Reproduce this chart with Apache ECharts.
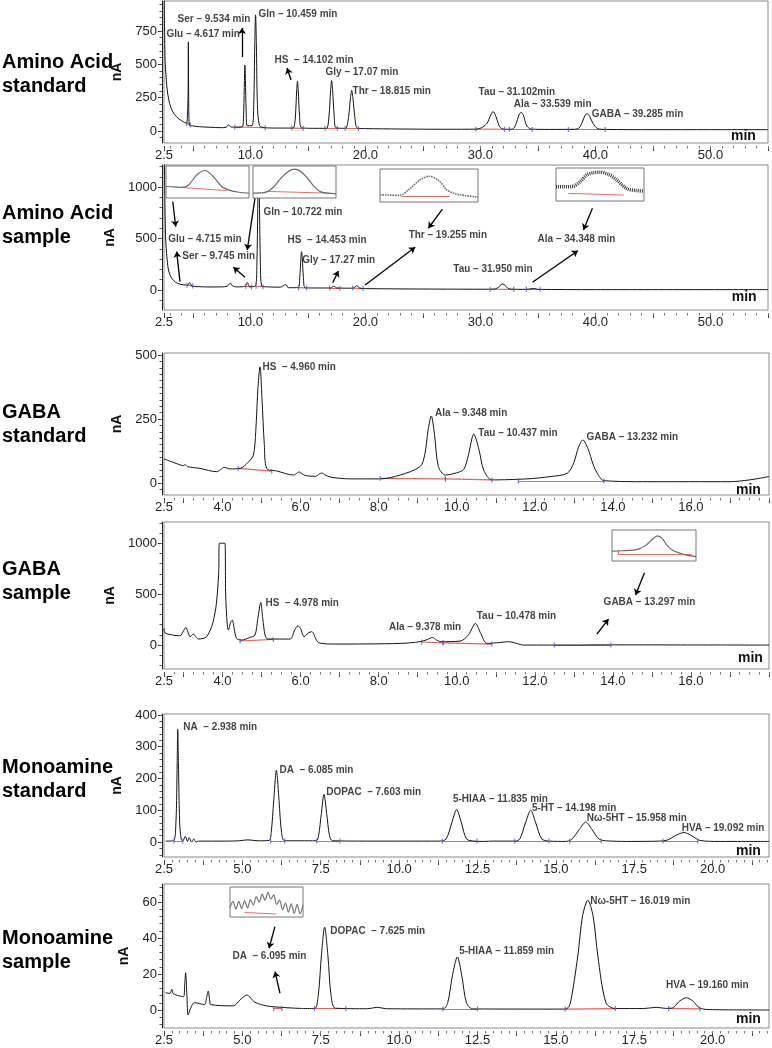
<!DOCTYPE html>
<html><head><meta charset="utf-8">
<script src="https://cdn.jsdelivr.net/npm/echarts@6/dist/echarts.min.js"></script>
<style>html,body{margin:0;padding:0;background:#fff}#c{width:772px;height:1048px}</style>
</head><body><div id="c"></div>
<script>
// ---------------- DATA ----------------
const panelTitles = [["Amino Acid","standard"],["Amino Acid","sample"],["GABA","standard"],["GABA","sample"],["Monoamine","standard"],["Monoamine","sample"]];

const aaXTickLabels = [2.5,10,20,30,40,50];
const gabaXTickLabels = [2.5,4,6,8,10,12,14,16];
const monoXTickLabels = [2.5,5,7.5,10,12.5,15,17.5,20];
const aaStdYTicks = [0,250,500,750];
const aaSmpYTicks = [0,500,1000];
const gabaStdYTicks = [0,250,500];
const gabaSmpYTicks = [0,500,1000];
const monoStdYTicks = [0,100,200,300,400];
const monoSmpYTicks = [0,20,40,60];

// traces [min, nA]
const aaStdTrace = [[2.52,990],[2.56,700],[2.6,520],[2.75,330],[2.9,240],[3.1,175],[3.4,125],[3.8,90],[4.2,68],[4.35,60],[4.42,66],[4.5,58],
 [4.55,60],[4.59,260],[4.617,668],[4.645,260],[4.7,45],
 [5.0,38],[5.6,32],[6.5,28],[7.5,25],[7.9,28],[8.1,45],[8.35,30],[8.8,28],[9.2,30],
 [9.35,35],[9.43,150],[9.49,380],[9.534,495],[9.58,380],[9.64,150],[9.72,40],
 [10.15,40],[10.3,200],[10.39,650],[10.459,871],[10.53,650],[10.62,200],[10.8,40],
 [11.2,25],[12.5,22],[13.6,22],
 [13.8,28],[13.93,120],[14.03,300],[14.102,374],[14.17,300],[14.28,120],[14.45,25],
 [15.5,20],[16.5,20],
 [16.7,24],[16.85,120],[16.98,300],[17.07,379],[17.16,300],[17.29,120],[17.45,24],
 [18.2,20],
 [18.35,22],[18.55,110],[18.7,240],[18.815,305],[18.93,240],[19.08,110],[19.3,22],
 [20,18],[23,15],[27,13],[29.7,14],
 [30.2,30],[30.6,60],[30.85,110],[31.102,146],[31.35,110],[31.6,45],[31.9,16],
 [32.4,13],
 [32.8,14],[33.1,55],[33.35,120],[33.539,141],[33.75,115],[34.0,45],[34.4,14],
 [36,12],[38.2,13],
 [38.6,25],[38.9,75],[39.1,118],[39.285,129],[39.5,110],[39.8,55],[40.2,18],[40.8,12],
 [45,10],[50,10],[55,10]];

const aaSmpTrace = [[2.53,1300],[2.6,700],[2.65,486],[2.75,320],[2.85,220],[3.0,150],[3.2,110],[3.5,75],[3.9,55],[4.4,48],
 [4.55,45],[4.65,62],[4.715,71],[4.8,60],[4.95,38],
 [5.5,32],[6.5,29],[7.5,30],[8.0,36],[8.2,60],[8.3,66],[8.45,40],[8.8,30],[9.4,32],
 [9.6,40],[9.7,65],[9.745,72],[9.8,62],[9.95,32],
 [10.45,38],[10.58,300],[10.67,950],[10.722,1160],[10.78,950],[10.87,300],[11.0,38],
 [11.5,30],[12.6,27],[12.95,48],[13.1,52],[13.3,22],
 [14.15,22],[14.3,120],[14.4,310],[14.453,372],[14.52,310],[14.62,120],[14.78,20],
 [15.8,19],[16.9,19],
 [17.05,22],[17.27,36],[17.5,20],
 [18.8,17],
 [19.0,20],[19.255,42],[19.5,18],
 [20,13],[25,9],[30.8,7],
 [31.3,10],[31.6,30],[31.8,52],[31.95,58],[32.15,45],[32.4,15],[32.7,7],
 [34.0,6],[34.4,12],[34.7,14],[35.0,6],[40,3],[55,3]];

const gabaStdTrace = [[2.5,94],[2.75,80],[3.0,68],[3.04,72],[3.1,64],[3.42,57],[3.85,44],[3.95,52],[4.04,61],[4.19,55],[4.45,57],[4.65,80],[4.79,109],
 [4.85,200],[4.91,380],[4.96,454],[5.01,330],[5.07,150],[5.13,57],
 [5.39,47],[5.82,31],[5.92,40],[5.96,43],[6.04,36],[6.12,29],[6.38,26],[6.48,35],[6.54,39],[6.62,32],[6.76,23],[7.27,16],[8.05,16],[8.55,31],[9.06,64],
 [9.18,110],[9.27,210],[9.348,262],[9.43,190],[9.53,64],[9.71,31],
 [10.0,40],[10.18,53],
 [10.3,110],[10.437,191],[10.57,130],[10.69,51],[10.9,12],
 [11.8,16],[12.4,25],[12.83,38],
 [13.0,80],[13.12,140],[13.232,168],[13.36,135],[13.5,70],[13.6,38],[13.77,9],
 [14.88,5],[17.0,5],[17.5,12],[18,25]];

const gabaSmpTrace = [[2.5,163],[2.52,121],[2.7,100],[2.91,91],[3.0,140],[3.06,173],[3.12,120],[3.17,82],[3.25,108],[3.32,80],[3.38,59],[3.5,65],[3.59,82],
 [3.7,160],[3.76,229],[3.84,400],[3.9,700],[3.92,1000],[4.06,1000],[4.08,500],[4.12,200],[4.15,147],
 [4.2,215],[4.25,245],[4.3,160],[4.36,65],[4.49,49],[4.7,75],[4.83,98],
 [4.9,250],[4.978,418],[5.03,260],[5.09,98],[5.16,59],[5.73,59],
 [5.85,150],[5.93,189],[6.0,160],[6.09,82],[6.2,120],[6.29,131],[6.38,70],[6.46,23],[6.86,10],[8.55,16],[9.06,33],
 [9.25,55],[9.378,75],[9.48,50],[9.6,33],[10.09,39],
 [10.3,100],[10.478,212],[10.62,110],[10.77,16],[11.1,25],[11.33,33],[11.5,20],[11.71,0],[13.1,0],[13.55,2],[18,0]];

const monoStdTrace = [[2.55,3],[2.8,4],[2.88,60],[2.92,250],[2.938,355],[2.96,250],[3.0,60],[3.05,8],[3.1,3],[3.18,18],[3.25,2],[3.3,14],[3.38,0],[3.45,10],[3.52,0],[3.6,3],
 [4.5,3],[4.9,4],[5.18,7],[5.5,4],[5.85,5],
 [5.92,30],[6.0,130],[6.085,226],[6.17,130],[6.25,30],[6.35,4],
 [7.35,4],[7.43,20],[7.52,90],[7.603,150],[7.69,90],[7.78,20],[7.88,4],
 [9,3],[11.3,3],
 [11.5,10],[11.68,60],[11.835,102],[11.99,60],[12.15,10],[12.4,3],[12.7,2],[13.0,3],[13.7,3],
 [13.85,10],[14.03,60],[14.198,100],[14.36,60],[14.55,10],[14.8,3],[15.3,2],
 [15.5,8],[15.75,40],[15.958,63],[16.15,40],[16.4,8],[16.8,3],[17.4,2],[18.3,3],
 [18.55,6],[18.85,22],[19.092,30],[19.3,22],[19.6,5],[20.2,2],[21.8,2]];

const monoSmpTrace = [[2.55,9.6],[2.69,9.2],[2.75,11.4],[2.8,9],[3.12,7.4],[3.16,14],[3.19,20.7],[3.23,8],[3.27,-2.8],[3.35,1],[3.47,4.1],[3.79,3.0],[3.86,7],[3.91,10.5],[3.96,5],[3.99,3.0],
 [4.71,2.3],[4.92,5.5],[5.14,8.3],[5.4,4.3],[5.77,2.3],[6.3,1.4],[6.83,0.9],[7.3,0.8],
 [7.42,8],[7.52,30],[7.625,46],[7.73,30],[7.83,8],[7.97,1],
 [9.0,0.7],[9.3,1.5],[9.6,0.7],[11.4,0.6],
 [11.55,4],[11.7,19],[11.859,29.5],[12.0,19],[12.15,4],[12.35,0.6],[15.3,0.5],
 [15.45,3],[15.7,30],[15.85,52],[16.019,61],[16.19,52],[16.34,30],[16.6,4],[16.9,0.8],[17.8,0.8],[18.2,1.5],[18.5,0.9],
 [18.7,1],[18.95,5],[19.16,6.8],[19.37,5],[19.6,1],[20.0,0.2],[21.8,0]];

// peak annotations [min, nA, text]
const aaStdLabels = [[3.63,840,'Ser – 9.534 min'],[2.67,728,'Glu – 4.617 min'],[10.67,878,'Gln – 10.459 min'],[12.07,533,'HS  – 14.102 min'],[16.5,443,'Gly – 17.07 min'],[18.85,300,'Thr – 18.815 min'],[29.8,293,'Tau – 31.102min'],[32.85,203,'Ala – 33.539 min'],[39.63,128,'GABA – 39.285 min']];
const aaSmpLabels = [[2.82,493,'Glu – 4.715 min'],[4.04,324,'Ser – 9.745 min'],[11.11,752,'Gln – 10.722 min'],[13.2,487,'HS  – 14.453 min'],[14.47,292,'Gly – 17.27 min'],[23.72,535,'Thr – 19.255 min'],[34.93,496,'Ala – 34.348 min'],[27.6,201,'Tau – 31.950 min']];
const gabaStdLabels = [[5.01,452,'HS  – 4.960 min'],[9.43,272,'Ala – 9.348 min'],[10.54,194,'Tau – 10.437 min'],[13.31,177,'GABA – 13.232 min']];
const gabaSmpLabels = [[5.09,409,'HS  – 4.978 min'],[8.25,170,'Ala – 9.378 min'],[10.5,284,'Tau – 10.478 min'],[13.75,419,'GABA – 13.297 min']];
const monoStdLabels = [[3.1,360,'NA  – 2.938 min'],[6.17,227,'DA  – 6.085 min'],[7.66,158,'DOPAC  – 7.603 min'],[11.7,134,'5-HIAA – 11.835 min'],[14.22,106,'5-HT – 14.198 min'],[15.97,76,'Nω-5HT – 15.958 min'],[19.0,45,'HVA – 19.092 min']];
const monoSmpLabels = [[4.67,29.6,'DA  – 6.095 min'],[7.79,43.5,'DOPAC  – 7.625 min'],[11.9,32.4,'5-HIAA – 11.859 min'],[16.08,60.2,'Nω-5HT – 16.019 min'],[18.5,13.9,'HVA – 19.160 min']];

// arrows [[from],[to]]
const aaStdArrows = [[[9.28,555],[9.28,773]],[[13.54,383],[13.2,473]]];
const aaSmpArrows = [[[3.26,859],[3.52,616]],[[3.89,81],[3.6,373]],[[10.41,892],[9.74,389]],[[9.54,124],[8.53,221]],[[17.17,71],[17.66,185]],[[19.98,49],[24.33,415]],[[26.7,785],[25.48,600]],[[39.74,795],[38.96,584]],[[34.53,75],[38.47,382]]];
const gabaStdArrows = [];
const gabaSmpArrows = [[[14.81,709],[14.58,491]],[[13.59,108],[13.89,255]]];
const monoStdArrows = [];
const monoSmpArrows = [[[6.04,46.3],[5.85,34.3]],[[6.2,9.3],[6.04,21.3]]];

// integration baselines
const aaStdBaselines = [[[4.45,55],[4.8,45]],[[8.65,30],[11.3,25]],[[13.6,22],[14.6,20]],[[16.5,20],[17.57,20]],[[18.24,20],[19.4,18]],[[29.6,14],[32.1,13]],[[32.53,13],[34.5,12]],[[37.65,12],[40.85,11]]];
const aaSmpBaselines = [[[4.5,46],[5.0,38]],[[9.6,35],[10.1,30]],[[10.5,36],[11.1,32]],[[14.2,22],[14.9,19]],[[16.9,19],[17.8,17]],[[18.9,18],[19.8,13]],[[30.85,7],[32.9,6]],[[34.0,6],[35.2,6]]];
const gabaStdBaselines = [[[4.4,57],[5.26,46]],[[8.04,18],[9.71,16]],[[9.71,16],[10.9,12]],[[11.58,8],[13.77,8]]];
const gabaSmpBaselines = [[[4.45,40],[5.3,55]],[[9.1,30],[9.65,22]],[[9.65,22],[10.9,10]],[[12.5,0],[13.95,0]]];
const monoStdBaselines = [[[2.82,3],[3.1,3]],[[5.9,3],[6.35,3]],[[7.37,3],[8.11,3]],[[11.38,3],[12.49,3]],[[13.69,3],[14.78,3]],[[15.44,3],[16.45,3]],[[18.42,3],[19.53,3]]];
const monoSmpBaselines = [[[6.0,0.8],[6.26,0.8]],[[7.3,0.8],[8.3,0.7]],[[11.4,0.6],[12.5,0.6]],[[15.3,0.5],[16.9,0.8]],[[18.6,0.9],[19.6,0.6]]];

// zoom insets (relative 0-100 units)
const insetGluTrace = [[0,36],[10,35],[19,33],[27,40],[37,72],[47,86],[57,67],[67,36],[77,24],[88,18],[100,15]];
const insetGluRed = [[[19,33],[73,23]]];
const insetGlnTrace = [[0,15],[8,16],[16,18],[25,35],[32,57],[41,80],[50,90],[59,80],[67,57],[74,35],[81,20],[90,15],[100,13]];
const insetGlnRed = [[[14,21],[91,15]]];
const insetThrTrace = [[0,22],[10,21],[20,20],[31,42],[40,65],[50,78],[60,65],[68,37],[75,27],[81,22],[100,15]];
const insetThrRed = [[[22,17],[71,17]]];
const insetAlaTrace = [[0,43],[10,43],[20,45],[28,60],[35,79],[43,86],[51,87],[60,80],[69,64],[80,38],[90,32],[100,30]];
const insetAlaRed = [[[14,23],[77,18]]];
const insetGabaTrace = [[0,32],[12,33],[25,35],[33,40],[41,52],[48,70],[54,81],[60,72],[65,52],[72,35],[81,25],[90,18],[100,14]];
const insetGabaRed = [[[7,35],[7,23]],[[7,23],[95,23]]];
const insetDaTrace = [[0,30],[4,52],[8,26],[12,52],[16,28],[20,54],[24,30],[28,58],[32,40],[36,68],[40,50],[44,76],[48,56],[52,82],[56,60],[60,74],[64,42],[68,56],[72,24],[76,46],[80,16],[84,44],[88,12],[92,42],[96,10],[100,40]];
const insetDaRed = [[[20,15],[63,10]]];

// ---------------- LAYOUT / STYLE ----------------
function steps(a,b,s){const r=[];for(let k=0;;k++){const v=Math.round((a+k*s)*1000)/1000;if(v>b+1e-9)break;r.push(v);}return r;}
const FONT = '"Liberation Sans", Arial, Helvetica, sans-serif';
const panels = [
 {trace:aaStdTrace, labels:aaStdLabels, arrows:aaStdArrows, bases:aaStdBaselines, xLabels:aaXTickLabels, yLabels:aaStdYTicks},
 {trace:aaSmpTrace, labels:aaSmpLabels, arrows:aaSmpArrows, bases:aaSmpBaselines, xLabels:aaXTickLabels, yLabels:aaSmpYTicks},
 {trace:gabaStdTrace, labels:gabaStdLabels, arrows:gabaStdArrows, bases:gabaStdBaselines, xLabels:gabaXTickLabels, yLabels:gabaStdYTicks},
 {trace:gabaSmpTrace, labels:gabaSmpLabels, arrows:gabaSmpArrows, bases:gabaSmpBaselines, xLabels:gabaXTickLabels, yLabels:gabaSmpYTicks},
 {trace:monoStdTrace, labels:monoStdLabels, arrows:monoStdArrows, bases:monoStdBaselines, xLabels:monoXTickLabels, yLabels:monoStdYTicks},
 {trace:monoSmpTrace, labels:monoSmpLabels, arrows:monoSmpArrows, bases:monoSmpBaselines, xLabels:monoXTickLabels, yLabels:monoSmpYTicks}
];
const aaMajor=[2.5].concat(steps(5,55,5)), aaMinor=steps(3,55,1);
const gMajor=[2.5].concat(steps(3,18,1)), gMinor=steps(2.75,18,0.25);
const mMajor=steps(2.5,21.25,1.25), mMinor=steps(2.75,21.75,0.25);
const layout = [
 {grid:{left:164,top:1,width:604,height:142}, x:[2.5,55], y:[-90,975], xMajor:aaMajor, xMinor:aaMinor, yMinor:steps(-50,950,50), title:[62,86], minPos:[731,136]},
 {grid:{left:164,top:165,width:604,height:145}, x:[2.5,55], y:[-195,1215], xMajor:aaMajor, xMinor:aaMinor, yMinor:steps(-100,1200,100), title:[213,237], minPos:[731.7,296.7]},
 {grid:{left:164,top:353,width:605,height:142}, x:[2.5,18], y:[-47,508], xMajor:gMajor, xMinor:gMinor, yMinor:steps(-25,500,25), title:[412,436], minPos:[736,490]},
 {grid:{left:164,top:522,width:605,height:147}, x:[2.5,18], y:[-235,1208], xMajor:gMajor, xMinor:gMinor, yMinor:steps(-200,1200,100), title:[569,593], minPos:[738,658.3]},
 {grid:{left:164,top:714,width:605,height:143}, x:[2.5,21.8], y:[-47,403], xMajor:mMajor, xMinor:mMinor, yMinor:steps(-40,400,20), title:[767,791], minPos:[736,850.7]},
 {grid:{left:164,top:884,width:605,height:144}, x:[2.5,21.8], y:[-10,70], xMajor:mMajor, xMinor:mMinor, yMinor:steps(-8,68,4), title:[938,962], minPos:[736,1019]}
];
const insets = [
 {panel:1, trace:insetGluTrace, red:insetGluRed, box:{left:166,top:166,width:83,height:32}, color:'#6a6a6a', w:1.2, type:'solid'},
 {panel:1, trace:insetGlnTrace, red:insetGlnRed, box:{left:253,top:166,width:83,height:32}, color:'#6a6a6a', w:1.2, type:'solid'},
 {panel:1, trace:insetThrTrace, red:insetThrRed, box:{left:380,top:169,width:98,height:33}, color:'#6a6a6a', w:1.6, type:[1.5,1]},
 {panel:1, trace:insetAlaTrace, red:insetAlaRed, box:{left:556,top:168,width:88,height:33}, color:'#3a3a3a', w:3.5, type:[1,1]},
 {panel:3, trace:insetGabaTrace, red:insetGabaRed, box:{left:612,top:530,width:84,height:31}, color:'#6a6a6a', w:1.2, type:'solid'},
 {panel:5, trace:insetDaTrace, red:insetDaRed, box:{left:230,top:887,width:73,height:30}, color:'#777', w:1.2, type:'solid'}
];

const grids=[], xAxes=[], yAxes=[], series=[], graphic=[];
layout.forEach((L,i)=>{
  const P = panels[i];
  grids.push(Object.assign({show:true, borderColor:'#8a8a8a', borderWidth:1, backgroundColor:'rgba(0,0,0,0)', z:0}, L.grid));
  xAxes.push({type:'value', gridIndex:i, min:L.x[0], max:L.x[1], position:'bottom', offset:3,
    axisLine:{show:false, onZero:false}, axisTick:{show:true, customValues:L.xMajor, length:5, lineStyle:{color:'#444'}},
    axisLabel:{customValues:P.xLabels, formatter:v=>Number(v).toFixed(1), fontSize:13, color:'#222', margin:3, fontFamily:FONT}, splitLine:{show:false}});
  xAxes.push({type:'value', gridIndex:i, min:L.x[0], max:L.x[1], position:'bottom', offset:3,
    axisLine:{show:false, onZero:false}, axisTick:{show:true, customValues:L.xMinor, length:2.5, lineStyle:{color:'#777'}},
    axisLabel:{show:false}, splitLine:{show:false}});
  yAxes.push({type:'value', gridIndex:i, min:L.y[0], max:L.y[1], position:'left', offset:2,
    axisLine:{show:true, onZero:false, lineStyle:{color:'#222'}}, axisTick:{show:true, customValues:P.yLabels, length:4, lineStyle:{color:'#222'}},
    axisLabel:{customValues:P.yLabels, formatter:v=>String(Math.round(v)), fontSize:13, color:'#222', margin:5, fontFamily:FONT}, splitLine:{show:false},
    name:'nA', nameLocation:'middle', nameRotate:90, nameGap:27, nameTextStyle:{fontWeight:'bold', fontSize:14, color:'#111', fontFamily:FONT}});
  yAxes.push({type:'value', gridIndex:i, min:L.y[0], max:L.y[1], position:'left', offset:2,
    axisLine:{show:false, onZero:false}, axisTick:{show:true, customValues:L.yMinor, length:2.5, lineStyle:{color:'#555'}},
    axisLabel:{show:false}, splitLine:{show:false}});
  const xi=2*i, yi=2*i;
  series.push({type:'lines', coordinateSystem:'cartesian2d', xAxisIndex:xi, yAxisIndex:yi, z:2,
    data:P.bases.map(s=>({coords:s})), lineStyle:{color:'#e5463f', width:1.2, opacity:0.85}, silent:true});
  series.push({type:'line', xAxisIndex:xi, yAxisIndex:yi, data:P.trace, showSymbol:false, symbol:'none', smooth:0.3, z:3,
    lineStyle:{color:'#151515', width:1}, silent:true});
  const ends=[]; P.bases.forEach(s=>{ends.push(s[0]); ends.push(s[1]);});
  series.push({type:'scatter', xAxisIndex:xi, yAxisIndex:yi, data:ends, symbol:'rect', symbolSize:[1.2,5], z:4,
    itemStyle:{color:'#5a5ad8'}, silent:true});
  if (P.arrows.length) series.push({type:'lines', coordinateSystem:'cartesian2d', xAxisIndex:xi, yAxisIndex:yi, z:6,
    data:P.arrows.map(s=>({coords:s})), symbol:['none','arrow'], symbolSize:6, lineStyle:{color:'#000', width:1.3, opacity:1}, silent:true});
  series.push({type:'scatter', xAxisIndex:xi, yAxisIndex:yi, z:7, symbolSize:1, itemStyle:{color:'rgba(0,0,0,0)'},
    data:P.labels.map(l=>({value:[l[0],l[1]], name:l[2]})),
    label:{show:true, position:'right', distance:0, formatter:'{b}', fontWeight:'bold', fontSize:10, color:'#111', fontFamily:FONT}, silent:true});
  graphic.push({type:'text', x:2, y:L.title[0], style:{text:panelTitles[i][0], font:'bold 20px '+FONT, fill:'#000', verticalAlign:'middle', textVerticalAlign:'middle'}});
  graphic.push({type:'text', x:2, y:L.title[1], style:{text:panelTitles[i][1], font:'bold 20px '+FONT, fill:'#000', verticalAlign:'middle', textVerticalAlign:'middle'}});
  graphic.push({type:'text', x:L.minPos[0], y:L.minPos[1], style:{text:'min', font:'bold 14px '+FONT, fill:'#111', verticalAlign:'middle', textVerticalAlign:'middle'}});
});
insets.forEach((ins,k)=>{
  const gi = 6+k, ai = 12+k;
  grids.push(Object.assign({show:true, borderColor:'#777', borderWidth:1, backgroundColor:'#fff', z:10}, ins.box));
  xAxes.push({type:'value', gridIndex:gi, min:0, max:100, show:false});
  yAxes.push({type:'value', gridIndex:gi, min:0, max:100, show:false});
  series.push({type:'lines', coordinateSystem:'cartesian2d', xAxisIndex:ai, yAxisIndex:ai, z:11,
    data:ins.red.map(s=>({coords:s})), lineStyle:{color:'#e5463f', width:1, opacity:0.8}, silent:true});
  series.push({type:'line', xAxisIndex:ai, yAxisIndex:ai, data:ins.trace, showSymbol:false, symbol:'none', smooth:0.3, z:12,
    lineStyle:{color:ins.color, width:ins.w, type:ins.type}, silent:true});
});

const chart = echarts.init(document.getElementById('c'), null, {renderer:'canvas'});
chart.setOption({animation:false, backgroundColor:'#fff', grid:grids, xAxis:xAxes, yAxis:yAxes, series:series, graphic:graphic});
</script></body></html>
